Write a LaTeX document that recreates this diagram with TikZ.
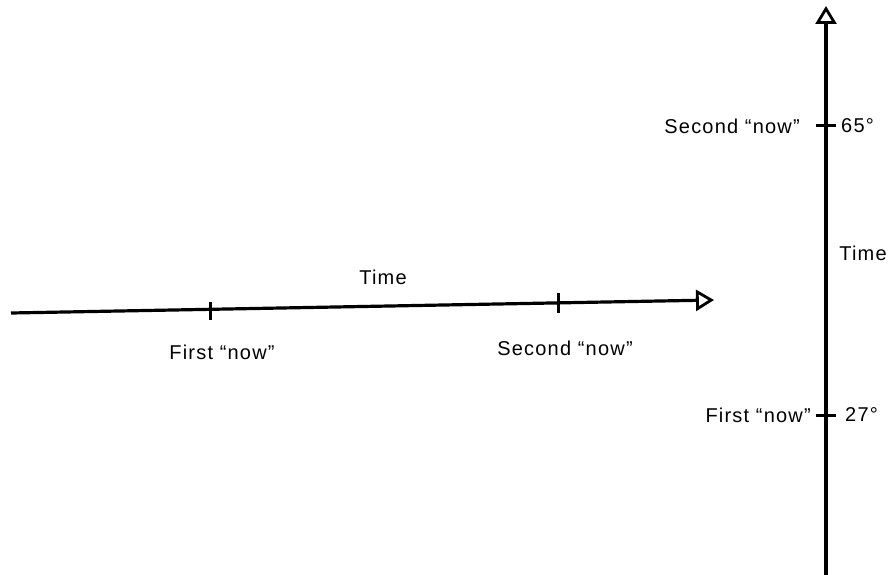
\documentclass[tikz,border=0pt]{standalone}
\usepackage{fontspec}
\setmainfont{Liberation Sans}[LetterSpace=6]
\usetikzlibrary{arrows.meta}
\begin{document}
\begin{tikzpicture}[x=1pt,y=-1pt,
  axis/.style={line width=3.2pt,-{Triangle[open,length=18pt,width=21pt,line width=2.8pt]}},
  tickmark/.style={line width=3pt},
  lbl/.style={font=\fontsize{20}{24}\selectfont,inner sep=0pt}]
\useasboundingbox (0,0) rectangle (896,575);

% horizontal time line
\coordinate (hstart) at (11,313);
\coordinate (hend) at (714,300);
\coordinate (hfirst) at (210,310.5);
\coordinate (hsecond) at (558,302.5);
\draw[axis] (hstart) -- (hend);
\draw[tickmark] ([yshift=-9pt]hfirst) -- ([yshift=9pt]hfirst);
\draw[tickmark] ([yshift=-10pt]hsecond) -- ([yshift=10pt]hsecond);
\node[lbl] (htime) at (383,277) {Time};
\node[lbl] (hfirstlbl) at (222,352) {First “now”};
\node[lbl] (hsecondlbl) at (565,348) {Second “now”};

% vertical time line
\coordinate (vstart) at (826,575);
\coordinate (vend) at (826,6);
\coordinate (vsecond) at (826,126);
\coordinate (vfirst) at (826,415);
\draw[axis] (vstart) -- (vend);
\draw[tickmark] ([xshift=-10pt]vsecond) -- ([xshift=10pt]vsecond);
\draw[tickmark] ([xshift=-10pt]vfirst) -- ([xshift=10pt]vfirst);
\node[lbl,anchor=east] (vsecondlbl) at (800,126) {Second “now”};
\node[lbl,anchor=west] (vsecondval) at (841,126) {65°};
\node[lbl] (vtime) at (863,253) {Time};
\node[lbl,anchor=east] (vfirstlbl) at (811,415) {First “now”};
\node[lbl,anchor=west] (vfirstval) at (845,415) {27°};
\end{tikzpicture}
\end{document}
